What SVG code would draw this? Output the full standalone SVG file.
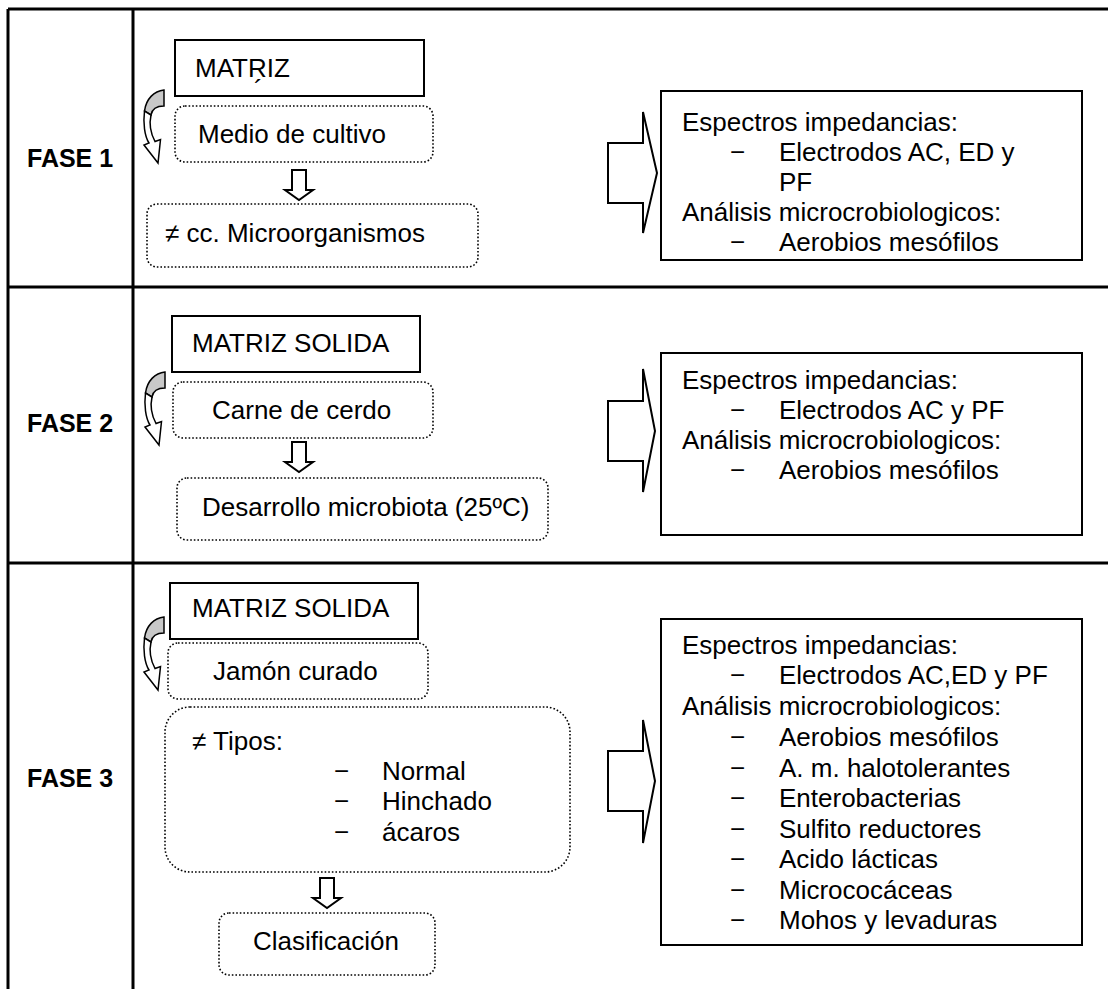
<svg xmlns="http://www.w3.org/2000/svg" xmlns:xlink="http://www.w3.org/1999/xlink" width="1108" height="989" viewBox="0 0 1108 989">
<style>
.cell{stroke:#000;stroke-width:3;fill:none}
.solid{fill:#fff;stroke:#000;stroke-width:2}
.dot{fill:#fff;stroke:#000;stroke-width:1.6;stroke-dasharray:1.6 2}
.t{font-family:"Liberation Sans",Arial,sans-serif;font-size:26px;fill:#000}
.b{font-weight:bold;font-size:25px}
.arr{fill:#fff;stroke:#000;stroke-width:2;stroke-linejoin:miter}
.back{fill:#c8c8c8;stroke:#000;stroke-width:1.5}
.front{fill:#fff;stroke:#000;stroke-width:1.5}
</style>
<defs>
<g id="curv">
<path class="back" d="M21,0 C11,1 3,9 1.5,21 L8,25 C9,19 14,16 21,16 Z"/>
<path class="front" d="M1.5,21 C0,33 1.5,46 6,53 L1,55 L15,73 L17.5,49.5 L12,51.5 C8,44 6,34 8,25 Z"/>
</g>
<path id="down" d="M-7,0 H7 V20 H14 L0,30 L-14,20 H-7 Z"/>
</defs>
<rect width="1108" height="989" fill="#fff"/>
<g id="table">
<path class="cell" d="M8,9 H1108 M8,9 V989 M133,9 V989 M8,287 H1108 M8,563 H1108"/>
<text class="t b" x="27" y="167">FASE 1</text>
<text class="t b" x="27" y="432">FASE 2</text>
<text class="t b" x="27" y="787">FASE 3</text>
</g>
<g id="connectors">
<use xlink:href="#curv" x="143" y="90"/>
<use xlink:href="#curv" x="144" y="372"/>
<use xlink:href="#curv" x="143" y="617"/>
<use xlink:href="#down" class="arr" x="299" y="170"/>
<use xlink:href="#down" class="arr" x="299" y="442"/>
<use xlink:href="#down" class="arr" x="327" y="878"/>
<path class="arr" d="M608,143 H643 V112 L657,173 L643,233 V203 H608 Z"/>
<path class="arr" d="M608,401 H643 V369 L655,431 L643,492 V461 H608 Z"/>
<path class="arr" d="M608,751 H643 V720 L655,781 L643,843 V811 H608 Z"/>
</g>
<g id="f1-matriz"><rect class="solid" x="175" y="40" width="249" height="56"/><text class="t" x="195" y="77">MATRIZ</text><text class="t" x="254" y="98" font-size="14">´</text></g>
<g id="f1-medio"><rect class="dot" x="175" y="106" width="258" height="56" rx="10"/><text class="t" x="198" y="143">Medio de cultivo</text></g>
<g id="f1-cc"><rect class="dot" x="147" y="204" width="331" height="63" rx="10"/><text class="t" x="165" y="242">≠ cc. Microorganismos</text></g>
<g id="f1-res"><rect class="solid" x="661" y="91" width="421" height="169"/>
<text class="t" x="682" y="131">Espectros impedancias:</text>
<text class="t" x="730" y="161">−</text><text class="t" x="779" y="161">Electrodos AC, ED y</text>
<text class="t" x="779" y="191">PF</text>
<text class="t" x="682" y="221">Análisis microcrobiologicos:</text>
<text class="t" x="730" y="251">−</text><text class="t" x="779" y="251">Aerobios mesófilos</text>
</g>
<g id="f2-matriz"><rect class="solid" x="172" y="316" width="248" height="56"/><text class="t" x="192" y="352">MATRIZ SOLIDA</text></g>
<g id="f2-carne"><rect class="dot" x="173" y="382" width="260" height="56" rx="10"/><text class="t" x="212" y="419">Carne de cerdo</text></g>
<g id="f2-desarrollo"><rect class="dot" x="177" y="478" width="371" height="62" rx="10"/><text class="t" x="202" y="516">Desarrollo microbiota (25ºC)</text></g>
<g id="f2-res"><rect class="solid" x="661" y="353" width="421" height="182"/>
<text class="t" x="682" y="389">Espectros impedancias:</text>
<text class="t" x="730" y="419">−</text><text class="t" x="779" y="419">Electrodos AC y PF</text>
<text class="t" x="682" y="449">Análisis microcrobiologicos:</text>
<text class="t" x="730" y="479">−</text><text class="t" x="779" y="479">Aerobios mesófilos</text>
</g>
<g id="f3-matriz"><rect class="solid" x="170" y="583" width="248" height="56"/><text class="t" x="192" y="617">MATRIZ SOLIDA</text></g>
<g id="f3-jamon"><rect class="dot" x="168" y="643" width="260" height="56" rx="10"/><text class="t" x="213" y="680">Jamón curado</text></g>
<g id="f3-tipos"><rect class="dot" x="165" y="707" width="405" height="165" rx="25"/>
<text class="t" x="192" y="750">≠ Tipos:</text>
<text class="t" x="334" y="780">−</text><text class="t" x="382" y="780">Normal</text>
<text class="t" x="334" y="810">−</text><text class="t" x="382" y="810">Hinchado</text>
<text class="t" x="334" y="841">−</text><text class="t" x="382" y="841">ácaros</text>
</g>
<g id="f3-clasif"><rect class="dot" x="219" y="913" width="216" height="62" rx="10"/><text class="t" x="253" y="950">Clasificación</text></g>
<g id="f3-res"><rect class="solid" x="661" y="619" width="421" height="326"/>
<text class="t" x="682" y="654">Espectros impedancias:</text>
<text class="t" x="730" y="684">−</text><text class="t" x="779" y="684">Electrodos AC,ED y PF</text>
<text class="t" x="682" y="715">Análisis microcrobiologicos:</text>
<text class="t" x="730" y="746">−</text><text class="t" x="779" y="746">Aerobios mesófilos</text>
<text class="t" x="730" y="777">−</text><text class="t" x="779" y="777">A. m. halotolerantes</text>
<text class="t" x="730" y="807">−</text><text class="t" x="779" y="807">Enterobacterias</text>
<text class="t" x="730" y="838">−</text><text class="t" x="779" y="838">Sulfito reductores</text>
<text class="t" x="730" y="868">−</text><text class="t" x="779" y="868">Acido lácticas</text>
<text class="t" x="730" y="899">−</text><text class="t" x="779" y="899">Micrococáceas</text>
<text class="t" x="730" y="929">−</text><text class="t" x="779" y="929">Mohos y levaduras</text>
</g>
</svg>
